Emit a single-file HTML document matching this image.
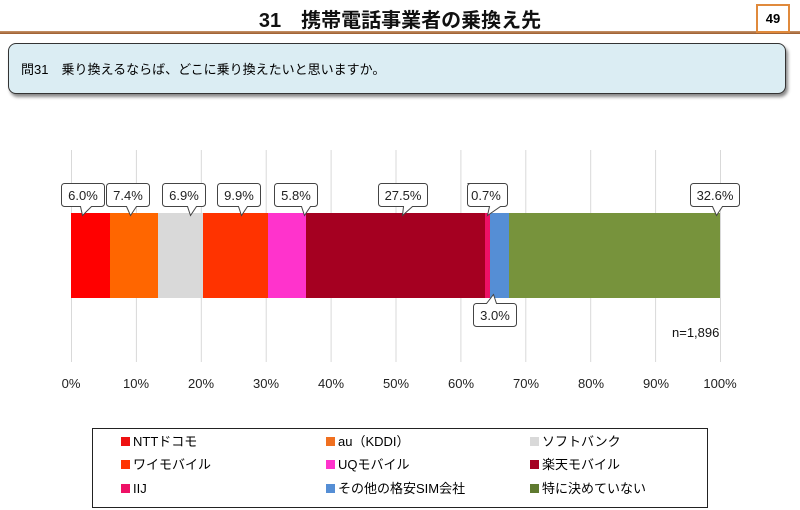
<!DOCTYPE html>
<html><head><meta charset="utf-8"><style>
body{margin:0;width:800px;height:510px;background:#fff;position:relative;overflow:hidden;font-family:"Liberation Sans","Noto Sans CJK JP",sans-serif;}
.title{position:absolute;left:0;width:800px;top:4px;text-align:center;font-size:20px;font-weight:bold;color:#111;}
.hl{position:absolute;left:0;width:800px;top:31px;height:3px;background:linear-gradient(#c8956a,#9a5a2c);}
.pg{position:absolute;left:756px;top:4px;width:30px;height:25px;border:2px solid #e08a3c;background:#fff;font-size:13px;font-weight:bold;text-align:center;line-height:25px;}
.q{position:absolute;left:8px;top:43px;width:778px;height:51px;background:#dbedf3;border:1px solid #333;border-radius:8px;box-shadow:2px 3px 3px #888;font-size:13px;line-height:51px;padding-left:12px;box-sizing:border-box;}
.leg{position:absolute;left:92px;top:428px;width:616px;height:80px;border:1px solid #222;box-sizing:border-box;font-size:13px;}
.li{position:absolute;height:18px;line-height:18px;}
.li i{display:inline-block;width:9px;height:9px;margin-right:3px;vertical-align:middle;position:relative;top:-1px;}
</style></head><body>
<div class="title">31　携帯電話事業者の乗換え先</div>
<div class="hl"></div>
<div class="pg">49</div>
<div class="q">問31　乗り換えるならば、どこに乗り換えたいと思いますか。</div>
<svg width="800" height="510" style="position:absolute;left:0;top:0" font-family="Liberation Sans, sans-serif">
<g stroke="#d9d9d9" stroke-width="1">
<line x1="71.5" y1="150" x2="71.5" y2="362"/><line x1="136.4" y1="150" x2="136.4" y2="362"/><line x1="201.3" y1="150" x2="201.3" y2="362"/><line x1="266.2" y1="150" x2="266.2" y2="362"/><line x1="331.1" y1="150" x2="331.1" y2="362"/><line x1="396" y1="150" x2="396" y2="362"/><line x1="460.9" y1="150" x2="460.9" y2="362"/><line x1="525.8" y1="150" x2="525.8" y2="362"/><line x1="590.7" y1="150" x2="590.7" y2="362"/><line x1="655.6" y1="150" x2="655.6" y2="362"/><line x1="720.5" y1="150" x2="720.5" y2="362"/>
</g>
<g>
<rect x="71" y="213" width="39" height="85" fill="#ff0000"/>
<rect x="110" y="213" width="48" height="85" fill="#ff6600"/>
<rect x="158" y="213" width="45" height="85" fill="#d9d9d9"/>
<rect x="203" y="213" width="65" height="85" fill="#ff3300"/>
<rect x="268" y="213" width="38" height="85" fill="#ff33cc"/>
<rect x="306" y="213" width="179" height="85" fill="#a50021"/>
<rect x="485" y="213" width="5" height="85" fill="#ee1166"/>
<rect x="490" y="213" width="19" height="85" fill="#558ed5"/>
<rect x="509" y="213" width="211" height="85" fill="#77933c"/>
</g>
<g font-size="13" fill="#222" text-anchor="middle">
<text x="71" y="388">0%</text><text x="136" y="388">10%</text><text x="201" y="388">20%</text><text x="266" y="388">30%</text><text x="331" y="388">40%</text><text x="396" y="388">50%</text><text x="461" y="388">60%</text><text x="526" y="388">70%</text><text x="591" y="388">80%</text><text x="656" y="388">90%</text><text x="720" y="388">100%</text>
</g>
<text x="672" y="337" font-size="13" fill="#111">n=1,896</text>
<g font-size="13" fill="#222" stroke="#444" stroke-width="1">
<path d="M64.5,183.5 h37 a3,3 0 0 1 3,3 v17 a3,3 0 0 1 -3,3 h-10 l-9,9 l-2,-9 h-16 a3,3 0 0 1 -3,-3 v-17 a3,3 0 0 1 3,-3z" fill="#fff"/>
<path d="M109.5,183.5 h37 a3,3 0 0 1 3,3 v17 a3,3 0 0 1 -3,3 h-10 l-6,9 l-4,-9 h-17 a3,3 0 0 1 -3,-3 v-17 a3,3 0 0 1 3,-3z" fill="#fff"/>
<path d="M165.5,183.5 h37 a3,3 0 0 1 3,3 v17 a3,3 0 0 1 -3,3 h-6 l-6,9 l-3,-9 h-22 a3,3 0 0 1 -3,-3 v-17 a3,3 0 0 1 3,-3z" fill="#fff"/>
<path d="M220.5,183.5 h37 a3,3 0 0 1 3,3 v17 a3,3 0 0 1 -3,3 h-10 l-6,9 l-3,-9 h-18 a3,3 0 0 1 -3,-3 v-17 a3,3 0 0 1 3,-3z" fill="#fff"/>
<path d="M277.5,183.5 h37 a3,3 0 0 1 3,3 v17 a3,3 0 0 1 -3,3 h-4 l-6,9 l-3,-9 h-24 a3,3 0 0 1 -3,-3 v-17 a3,3 0 0 1 3,-3z" fill="#fff"/>
<path d="M381.5,183.5 h43 a3,3 0 0 1 3,3 v17 a3,3 0 0 1 -3,3 h-12 l-10,9 l1,-9 h-22 a3,3 0 0 1 -3,-3 v-17 a3,3 0 0 1 3,-3z" fill="#fff"/>
<path d="M467.5,183.5 h37 a3,3 0 0 1 3,3 v17 a3,3 0 0 1 -3,3 h-4 l-13,9 l2,-9 h-19 a3,3 0 0 1 -3,-3 v-17 a3,3 0 0 1 3,-3z" fill="#fff"/>
<path d="M693.5,183.5 h43 a3,3 0 0 1 3,3 v17 a3,3 0 0 1 -3,3 h-14 l-6,9 l-4,-9 h-19 a3,3 0 0 1 -3,-3 v-17 a3,3 0 0 1 3,-3z" fill="#fff"/>
<path d="M476.5,303.5 h10 l7,-9 l3,9 h17 a3,3 0 0 1 3,3 v17 a3,3 0 0 1 -3,3 h-37 a3,3 0 0 1 -3,-3 v-17 a3,3 0 0 1 3,-3z" fill="#fff"/>
</g>
<g font-size="13" fill="#222" text-anchor="middle">
<text x="83" y="200">6.0%</text><text x="128" y="200">7.4%</text><text x="184" y="200">6.9%</text><text x="239" y="200">9.9%</text><text x="296" y="200">5.8%</text><text x="403" y="200">27.5%</text><text x="486" y="200">0.7%</text><text x="715" y="200">32.6%</text><text x="495" y="320">3.0%</text>
</g>
</svg>
<div class="leg">
<div class="li" style="left:28px;top:4px"><i style="background:#e11"></i>NTTドコモ</div>
<div class="li" style="left:233px;top:4px"><i style="background:#f07020"></i>au（KDDI）</div>
<div class="li" style="left:437px;top:4px"><i style="background:#d9d9d9"></i>ソフトバンク</div>
<div class="li" style="left:28px;top:27px"><i style="background:#ff3300"></i>ワイモバイル</div>
<div class="li" style="left:233px;top:27px"><i style="background:#ff33cc"></i>UQモバイル</div>
<div class="li" style="left:437px;top:27px"><i style="background:#a50021"></i>楽天モバイル</div>
<div class="li" style="left:28px;top:51px"><i style="background:#ee1166"></i>IIJ</div>
<div class="li" style="left:233px;top:51px"><i style="background:#558ed5"></i>その他の格安SIM会社</div>
<div class="li" style="left:437px;top:51px"><i style="background:#5f7a30"></i>特に決めていない</div>
</div>
</body></html>
